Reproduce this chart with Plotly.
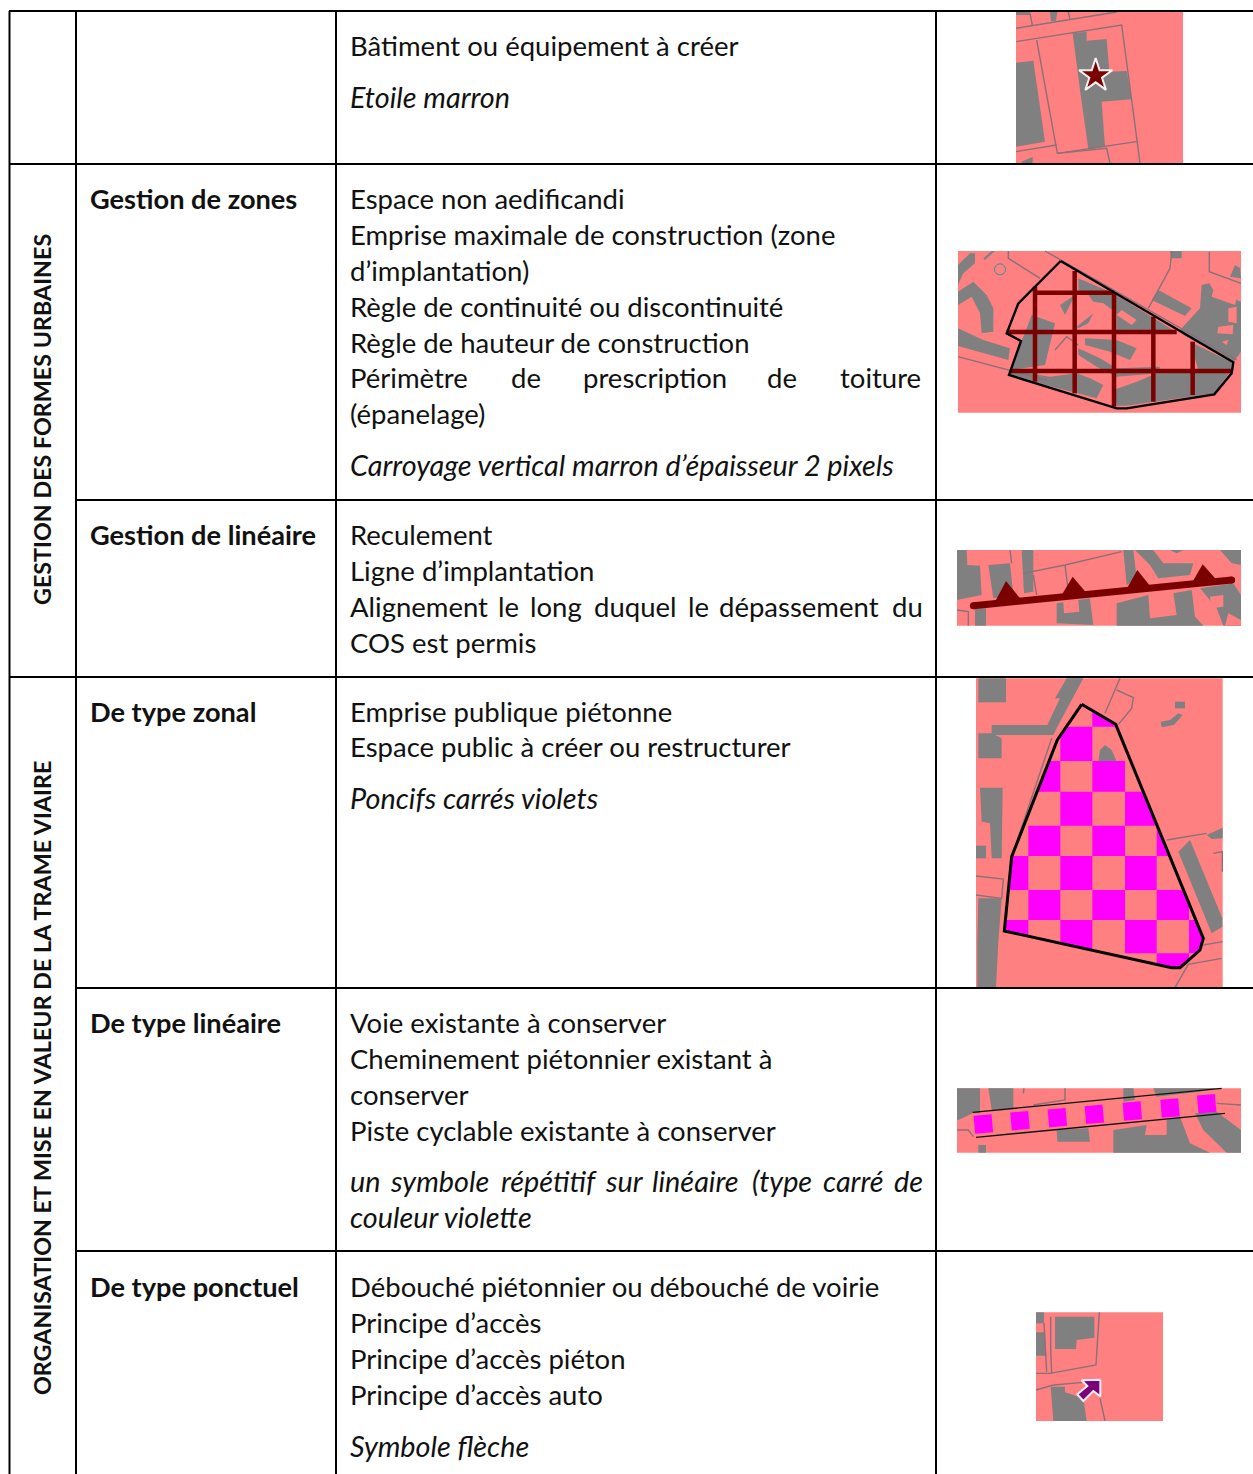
import plotly.graph_objects as go

FONT = "Lato"
SIZE_REGULAR = 27.5
SIZE_BOLD = 27.2
SIZE_ITALIC = 28.8
SIZE_GROUP = 23.3
TEXT_DY = -1
INK = "#111111"
PINK = "#ff8080"
GRAY = "#808080"
MAROON = "#7b0000"
MAGENTA = "#ff00ff"
LINE_GRAY = "#8a7078"

# ---------- table ----------
col_x = [9.5, 76, 336, 936]
row_y = [11, 164, 500, 677, 988, 1251]
h_rules = [(9, 11), (9, 164), (76, 500), (9, 677), (76, 988), (76, 1251)]

group_labels = ["GESTION DES FORMES URBAINES", "ORGANISATION ET MISE EN VALEUR DE LA TRAME VIAIRE"]
group_y = [420, 1078]

row_heads = ["Gestion de zones", "Gestion de linéaire", "De type zonal", "De type linéaire", "De type ponctuel"]
row_head_y = [199, 535, 712, 1023, 1287]

body_lines = [
    (46, "Bâtiment ou équipement à créer", False),
    (98, "Etoile marron", True),
    (199, "Espace non aedificandi", False),
    (235, "Emprise maximale de construction (zone", False),
    (271, "d’implantation)", False),
    (307, "Règle de continuité ou discontinuité", False),
    (343, "Règle de hauteur de construction", False),
    (414, "(épanelage)", False),
    (466, "Carroyage vertical marron d’épaisseur 2 pixels", True),
    (535, "Reculement", False),
    (571, "Ligne d’implantation", False),
    (643, "COS est permis", False),
    (712, "Emprise publique piétonne", False),
    (747, "Espace public à créer ou restructurer", False),
    (799, "Poncifs carrés violets", True),
    (1023, "Voie existante à conserver", False),
    (1059, "Cheminement piétonnier existant à", False),
    (1095, "conserver", False),
    (1131, "Piste cyclable existante à conserver", False),
    (1218, "couleur violette", True),
    (1287, "Débouché piétonnier ou débouché de voirie", False),
    (1323, "Principe d’accès", False),
    (1359, "Principe d’accès piéton", False),
    (1395, "Principe d’accès auto", False),
    (1447, "Symbole flèche", True),
]

justified_lines = [
    (378, False, ["Périmètre", "de", "prescription", "de", "toiture"], [351, 512, 584, 768, 841]),
    (607, False, ["Alignement", "le", "long", "duquel", "le", "dépassement", "du"], [351, 499, 531, 595, 689, 720, 893]),
    (1182, True, ["un", "symbole", "répétitif", "sur", "linéaire", "(type", "carré", "de"], [351, 391, 502, 606, 653, 753, 824, 895]),
]

# ---------- map 1 ----------
m1_origin = (950, 10)
m1_bg = [(198, 6), (699, 6), (699, 459), (198, 459)]
m1_blocks = [
    [(198, 158), (250, 152), (285, 395), (198, 410)],
    [(368, 70), (410, 65), (410, 92), (470, 87), (478, 185), (530, 183), (545, 268), (455, 275), (465, 410), (415, 418), (390, 240)],
    [(300, 6), (322, 6), (318, 32), (303, 34)],
    [(198, 6), (240, 6), (242, 15), (198, 15)],
    [(215, 455), (248, 440), (248, 459), (215, 459)],
]
m1_lines = [
    [(198, 95), (515, 45), (570, 459)],
    [(198, 55), (500, 6)],
    [(260, 90), (322, 430), (560, 395)],
    [(240, 10), (247, 45)],
    [(355, 6), (360, 28)],
    [(198, 425), (320, 405)],
    [(322, 430), (470, 415), (480, 459)],
]
m1_star = (437, 197)

# ---------- map 2 ----------
m2_origin = (950, 245)
m2_bg = [(24, 18), (873, 18), (873, 503), (24, 503)]
m2_blocks = [
    [(24, 60), (60, 25), (75, 25), (75, 55), (40, 85), (24, 120)],
    [(24, 140), (70, 110), (110, 150), (130, 190), (130, 260), (95, 265), (90, 205), (65, 155), (24, 180)],
    [(24, 250), (100, 285), (180, 310), (175, 345), (24, 303)],
    [(100, 40), (125, 18), (135, 18), (105, 45)],
    [(660, 18), (695, 18), (695, 40), (665, 40)],
    [(625, 135), (725, 190), (705, 213), (605, 165)],
    [(690, 255), (750, 190), (755, 120), (778, 115), (790, 135), (860, 165), (873, 170), (873, 320), (850, 352), (700, 270)],
    [(840, 95), (855, 60), (870, 70), (873, 100)],
    [(385, 100), (490, 145), (680, 262), (500, 262), (500, 205), (460, 175), (430, 170), (415, 150), (385, 135)],
    [(330, 180), (375, 150), (345, 210)],
    [(230, 250), (245, 210), (315, 235), (285, 360), (180, 375), (212, 295)],
    [(185, 375), (300, 395), (380, 385), (420, 400), (460, 420), (440, 460), (180, 392)],
    [(380, 245), (430, 205), (415, 235), (385, 250)],
    [(405, 280), (500, 285), (560, 310), (540, 345), (480, 320), (405, 300)],
    [(385, 310), (450, 340), (500, 370), (630, 365), (625, 385), (500, 395), (440, 365), (385, 330)],
    [(490, 435), (560, 410), (620, 385), (840, 380), (793, 445), (530, 482), (500, 482)],
    [(720, 290), (845, 352), (845, 380), (745, 375)],
]
m2_pinks = [
    [(805, 245), (850, 240), (848, 268), (802, 265)],
    [(790, 135), (860, 160), (855, 180), (785, 155)],
    [(835, 190), (860, 185), (860, 235), (835, 230)],
    [(815, 290), (835, 285), (830, 300)],
    [(515, 195), (560, 225), (545, 240), (500, 210)],
]
m2_lines = [
    [(175, 18), (175, 40), (270, 100)],
    [(285, 18), (860, 345)],
    [(24, 335), (290, 405)],
    [(665, 18), (660, 70), (595, 190)],
    [(778, 20), (778, 80), (873, 115)],
    [(315, 315), (350, 275), (385, 300)],
]
m2_circle = (150, 73)
m2_outline = [(332, 48), (850, 352), (845, 385), (793, 448), (530, 490), (500, 490), (177, 390), (213, 288), (170, 265), (205, 175), (332, 48)]
m2_grid_v = [(255, 125, 410), (374, 78, 445), (492, 142, 485), (610, 215, 470), (728, 290, 450)]
m2_grid_h = [(143, 255, 492), (261, 170, 680), (378, 180, 845)]

# ---------- map 3 ----------
m3_origin = (950, 545)
m3_bg = [(21, 15), (873, 15), (873, 242), (21, 242)]
m3_blocks = [
    [(21, 15), (50, 15), (52, 60), (90, 62), (95, 150), (21, 165)],
    [(115, 60), (180, 55), (190, 150), (130, 160)],
    [(215, 15), (250, 15), (250, 140), (222, 145)],
    [(520, 15), (550, 15), (560, 100), (530, 120)],
    [(555, 15), (610, 15), (640, 55), (730, 55), (720, 90), (625, 100), (600, 60)],
    [(810, 15), (873, 15), (873, 60), (845, 55)],
    [(75, 190), (108, 190), (108, 242), (75, 242)],
    [(320, 175), (420, 160), (430, 240), (320, 235)],
    [(500, 175), (595, 150), (600, 220), (680, 210), (670, 145), (725, 135), (735, 215), (760, 242), (500, 242)],
    [(750, 130), (850, 115), (873, 150), (873, 242), (820, 242), (800, 190)],
    [(660, 15), (700, 15), (680, 25)],
]
m3_pinks = [
    [(340, 170), (385, 165), (388, 200), (342, 205)],
    [(780, 155), (820, 150), (820, 185), (785, 190)],
    [(835, 205), (873, 225), (873, 242), (825, 242)],
]
m3_lines = [
    [(220, 85), (345, 60), (515, 20)],
    [(345, 60), (355, 140)],
    [(250, 90), (260, 150)],
    [(21, 195), (55, 200), (55, 242)],
    [(180, 15), (185, 55)],
]
m3_axis_line = [(70, 182), (845, 105)]
m3_triangles = [
    [(168, 108), (210, 160), (135, 170)],
    [(368, 95), (410, 145), (335, 150)],
    [(562, 75), (602, 125), (528, 135)],
    [(758, 58), (800, 105), (725, 115)],
]

# ---------- map 4 ----------
m4_origin = (970, 675)
m4_bg = [(18, 10), (758, 10), (758, 937), (18, 937)]
m4_blocks = [
    [(25, 10), (108, 10), (108, 82), (25, 82)],
    [(290, 10), (340, 10), (265, 150), (250, 180), (65, 180), (65, 150), (232, 150), (270, 70), (255, 70)],
    [(25, 175), (65, 175), (95, 190), (95, 250), (25, 250)],
    [(30, 338), (98, 338), (95, 550), (65, 550), (60, 445), (35, 440)],
    [(18, 512), (48, 512), (48, 550), (18, 550)],
    [(25, 670), (95, 670), (85, 800), (78, 937), (22, 937), (22, 800)],
    [(615, 80), (645, 80), (645, 100), (615, 100)],
    [(572, 140), (600, 135), (625, 115), (638, 120), (612, 150), (575, 157)],
    [(625, 530), (660, 495), (757, 730), (757, 755), (725, 775)],
    [(710, 480), (758, 458), (758, 490), (725, 492)],
]
m4_lines = [
    [(450, 10), (405, 115)],
    [(440, 45), (490, 68), (485, 100), (445, 148)],
    [(590, 495), (710, 475)],
    [(18, 603), (100, 612), (95, 670), (18, 660)],
    [(700, 810), (758, 800)],
    [(755, 850), (655, 868), (615, 937)],
    [(730, 535), (757, 530), (757, 590)],
    [(245, 190), (125, 545)],
]
m4_outline = [(335, 88), (437, 148), (700, 790), (690, 825), (630, 878), (605, 878), (103, 768), (125, 545), (262, 195), (335, 88)]
m4_cells_x = [79, 175, 271, 367, 465, 560, 657, 750]
m4_cells_y = [88, 155, 258, 350, 452, 543, 645, 735, 835, 900]
m4_cells_on = [[3], [2], [1, 3], [2, 4], [1, 3, 5], [0, 2, 4], [1, 3, 5], [0, 2, 4, 6], [5]]
m4_inner_gray = [(385, 258), (390, 225), (405, 210), (425, 225), (440, 258)]

# ---------- map 5 ----------
m5_origin = (950, 1080)
m5_bg = [(21, 25), (873, 25), (873, 218), (21, 218)]
m5_blocks = [
    [(21, 25), (90, 25), (90, 100), (68, 100), (25, 120), (21, 120)],
    [(115, 25), (190, 25), (190, 85), (125, 90)],
    [(520, 25), (550, 25), (555, 60), (520, 65)],
    [(610, 25), (800, 25), (750, 35), (620, 50)],
    [(320, 150), (415, 145), (420, 185), (322, 185)],
    [(490, 150), (590, 135), (585, 165), (650, 165), (650, 120), (690, 110), (720, 190), (780, 218), (490, 218)],
    [(735, 100), (800, 95), (873, 150), (873, 218), (830, 218), (760, 150)],
    [(85, 195), (108, 195), (108, 218), (85, 218)],
]
m5_lines = [
    [(220, 40), (222, 25)],
    [(250, 75), (345, 60), (345, 25)],
    [(21, 150), (55, 150), (70, 170)],
    [(800, 70), (873, 75)],
]
m5_black = [[(68, 97), (815, 25)], [(78, 172), (825, 100)]]
m5_squares_x = [100, 210, 322, 433, 547, 660, 770]
m5_squares_y = [132, 122, 113, 103, 93, 84, 71]

# ---------- map 6 ----------
m6_origin = (1030, 1305)
m6_bg = [(18, 22), (399, 22), (399, 348), (18, 348)]
m6_blocks = [
    [(75, 35), (193, 35), (193, 98), (140, 105), (138, 132), (75, 132)],
    [(18, 22), (42, 22), (42, 55), (18, 55)],
    [(18, 82), (45, 82), (48, 152), (18, 152)],
    [(62, 245), (105, 245), (105, 262), (160, 280), (170, 348), (70, 348)],
]
m6_lines = [
    [(208, 22), (198, 180), (60, 205), (18, 205)],
    [(42, 55), (50, 200)],
    [(18, 255), (70, 240), (160, 232)],
    [(210, 280), (225, 348)],
    [(62, 35), (62, 130), (65, 205)],
]
m6_arrow = [(211, 224), (211, 274), (190, 258), (160, 288), (142, 268), (172, 243), (155, 226)]


def page(origin, pts):
    return [origin[0] + p[0] / 3 for p in pts], [origin[1] + p[1] / 3 for p in pts]


fig = go.Figure()


def poly(origin, pts, color, line_color=None, line_width=0):
    xs, ys = page(origin, pts)
    fig.add_trace(go.Scatter(x=xs + xs[:1], y=ys + ys[:1], mode="lines", fill="toself", fillcolor=color,
                             line=dict(color=line_color or color, width=line_width), hoverinfo="skip", showlegend=False))


def path(origin, pts, color, width):
    xs, ys = page(origin, pts)
    fig.add_trace(go.Scatter(x=xs, y=ys, mode="lines", line=dict(color=color, width=width),
                             hoverinfo="skip", showlegend=False))


def clip_convex(subject, clip):
    """Clip a cell against the convex outline, keeping what lies inside."""
    out = subject
    n = len(clip)
    for i in range(n):
        a, b = clip[i], clip[(i + 1) % n]
        side = lambda p: (b[0] - a[0]) * (p[1] - a[1]) - (b[1] - a[1]) * (p[0] - a[0])
        res = []
        for j in range(len(out)):
            p, q = out[j], out[(j + 1) % len(out)]
            sp, sq = side(p), side(q)
            if sp >= 0:
                res.append(p)
            if (sp >= 0) != (sq >= 0):
                t = sp / (sp - sq)
                res.append((p[0] + t * (q[0] - p[0]), p[1] + t * (q[1] - p[1])))
        out = res
        if not out:
            break
    return out


def base_map(origin, bg, blocks, lines, pinks=()):
    poly(origin, bg, PINK)
    for b in blocks:
        poly(origin, b, GRAY)
    for b in pinks:
        poly(origin, b, PINK)
    for l in lines:
        path(origin, l, LINE_GRAY, 1.4)


# map 1
base_map(m1_origin, m1_bg, m1_blocks, m1_lines)
sx, sy = page(m1_origin, [m1_star])
fig.add_trace(go.Scatter(x=sx, y=sy, mode="markers", hoverinfo="skip", showlegend=False,
                         marker=dict(symbol="star", size=25, color=MAROON, line=dict(color="#f4f0f0", width=2))))

# map 2
base_map(m2_origin, m2_bg, m2_blocks, m2_lines, m2_pinks)
cx, cy = page(m2_origin, [m2_circle])
fig.add_trace(go.Scatter(x=cx, y=cy, mode="markers", hoverinfo="skip", showlegend=False,
                         marker=dict(symbol="circle-open", size=11, color="#3f8f96", line=dict(width=1))))
for x, y0, y1 in m2_grid_v:
    path(m2_origin, [(x, y0), (x, y1)], MAROON, 4.5)
for y, x0, x1 in m2_grid_h:
    path(m2_origin, [(x0, y), (x1, y)], MAROON, 4.5)
path(m2_origin, m2_outline, "#000000", 2.4)

# map 3
base_map(m3_origin, m3_bg, m3_blocks, m3_lines, m3_pinks)
path(m3_origin, m3_axis_line, MAROON, 7)
ex, ey = page(m3_origin, m3_axis_line)
fig.add_trace(go.Scatter(x=ex, y=ey, mode="markers", hoverinfo="skip", showlegend=False,
                         marker=dict(symbol="circle", size=7, color=MAROON)))
for t in m3_triangles:
    poly(m3_origin, t, MAROON)

# map 4
base_map(m4_origin, m4_bg, m4_blocks, m4_lines)
for r, cols in enumerate(m4_cells_on):
    for c in cols:
        x0, x1 = m4_cells_x[c], m4_cells_x[c + 1]
        y0, y1 = m4_cells_y[r], m4_cells_y[r + 1]
        piece = clip_convex([(x0, y0), (x1, y0), (x1, y1), (x0, y1)], m4_outline[:-1])
        if len(piece) > 2:
            poly(m4_origin, piece, MAGENTA)
poly(m4_origin, m4_inner_gray, GRAY)
path(m4_origin, m4_outline, "#000000", 3)

# map 5
base_map(m5_origin, m5_bg, m5_blocks, m5_lines)
for l in m5_black:
    path(m5_origin, l, "#111111", 1.4)
qx, qy = page(m5_origin, list(zip(m5_squares_x, m5_squares_y)))
fig.add_trace(go.Scatter(x=qx, y=qy, mode="markers", hoverinfo="skip", showlegend=False,
                         marker=dict(symbol="square", size=18, color=MAGENTA, angle=-5)))

# map 6
base_map(m6_origin, m6_bg, m6_blocks, m6_lines)
poly(m6_origin, m6_arrow, "#7b007b", "#f6eef2", 2)

# table rules
for x in col_x:
    fig.add_trace(go.Scatter(x=[x, x], y=[row_y[0], 1474], mode="lines", line=dict(color="#000000", width=2),
                             hoverinfo="skip", showlegend=False))
for x0, y in h_rules:
    fig.add_trace(go.Scatter(x=[x0, 1253], y=[y, y], mode="lines", line=dict(color="#000000", width=2),
                             hoverinfo="skip", showlegend=False))

# text
ann = []


def text(x, y, s, size, bold=False, italic=False, angle=0, anchor="left"):
    t = f"<b>{s}</b>" if bold else s
    t = f"<i>{t}</i>" if italic else t
    ann.append(dict(x=x, y=y + TEXT_DY, text=t, showarrow=False, xanchor=anchor, yanchor="middle", textangle=angle,
                    font=dict(family=FONT, size=size, color=INK), borderpad=0, borderwidth=0))


for lab, y in zip(group_labels, group_y):
    text(42, y + 1, lab, SIZE_GROUP, bold=True, angle=-90, anchor="center")
for lab, y in zip(row_heads, row_head_y):
    text(90, y, lab, SIZE_BOLD, bold=True)
for y, s, it in body_lines:
    text(350, y, s, SIZE_ITALIC if it else SIZE_REGULAR, italic=it)
for y, it, words, xs in justified_lines:
    for w, x in zip(words, xs):
        text(x - 1, y, w, SIZE_ITALIC if it else SIZE_REGULAR, italic=it)

fig.update_layout(
    width=1253, height=1474, margin=dict(l=0, r=0, t=0, b=0),
    paper_bgcolor="#ffffff", plot_bgcolor="#ffffff", showlegend=False, annotations=ann,
    xaxis=dict(range=[0, 1253], visible=False, fixedrange=True),
    yaxis=dict(range=[1474, 0], visible=False, fixedrange=True),
)
fig.write_html("out.html", config=dict(displayModeBar=False),
               post_script="document.body.style.margin='0';document.body.style.overflow='hidden';")
